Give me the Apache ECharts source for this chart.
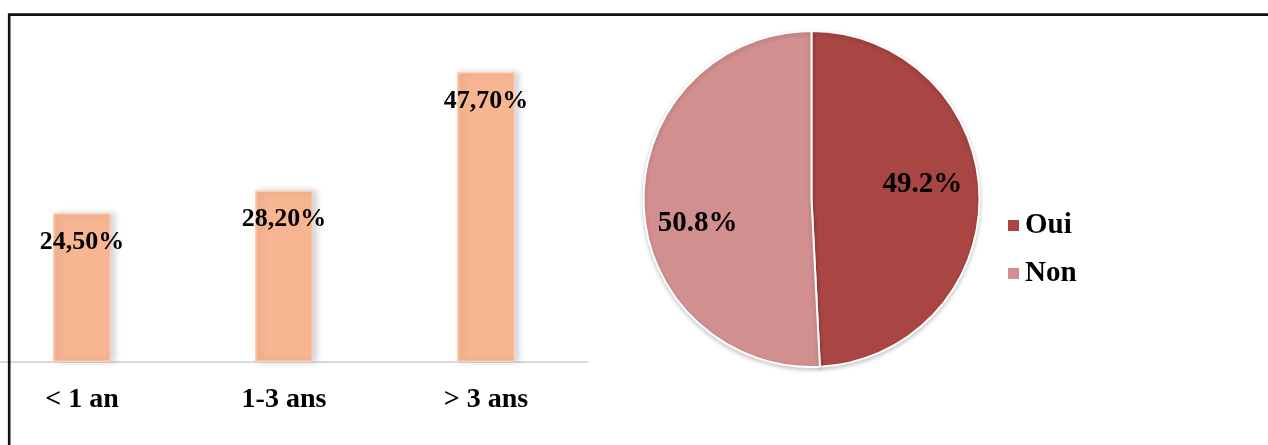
<!DOCTYPE html>
<html>
<head>
<meta charset="utf-8">
<script src="https://cdn.jsdelivr.net/npm/echarts@6/dist/echarts.min.js"></script>
<style>
html,body{margin:0;padding:0;background:#fff;overflow:hidden;width:1268px;height:445px;}
#chart{position:absolute;left:-19px;top:0;width:1287px;height:445px;}
</style>
</head>
<body>
<div id="chart"></div>
<script>
var barCategories = ['< 1 an', '1-3 ans', '> 3 ans'];
var barValues = [24.5, 28.2, 47.7];
var pieNames = ['Oui', 'Non'];
var pieValues = [49.2, 50.8];

var FONT = '"Liberation Serif", "Times New Roman", serif';
var SX = 19; // horizontal shift of the chart container
var pieColors = ['#A94644', '#D18F8F'];
var pieLabelOffsets = [[24, -12], [-27, 22]];

var pieLabel = {
  show: true,
  position: 'inside',
  color: '#000',
  fontFamily: FONT,
  fontWeight: 'bold',
  fontSize: 29,
  formatter: function (p) { return p.value.toFixed(1) + '%'; }
};

var chart = echarts.init(document.getElementById('chart'), null, {renderer: 'canvas'});
chart.setOption({
  animation: false,
  backgroundColor: '#ffffff',
  graphic: [{
    type: 'polyline',
    shape: {points: [[9.2 + SX, 445], [9.2 + SX, 14.6], [1268 + SX, 14.6]]},
    style: {stroke: '#111', lineWidth: 2.6, fill: null},
    z: 100
  }],
  grid: {left: 0, width: 606, top: 58, bottom: 83, containLabel: false},
  xAxis: {
    type: 'category',
    data: barCategories,
    axisLine: {lineStyle: {color: '#D9D9D9', width: 2}},
    axisTick: {show: false},
    axisLabel: {
      color: '#000', fontFamily: FONT, fontWeight: 'bold', fontSize: 28, margin: 24
    }
  },
  yAxis: {
    type: 'value', min: 0, max: 50, show: false,
    splitLine: {show: false}
  },
  legend: {
    orient: 'vertical',
    left: 1001 + SX,
    top: 206,
    itemWidth: 13,
    itemHeight: 13,
    itemGap: 19,
    icon: 'rect',
    data: pieNames,
    textStyle: {color: '#000', fontFamily: FONT, fontWeight: 'bold', fontSize: 29}
  },
  series: [{
    type: 'bar',
    data: barValues,
    barWidth: 58,
    itemStyle: {
      color: '#F8B591',
      borderColor: '#FBD0B6',
      borderWidth: 1.5,
      shadowColor: 'rgba(60,70,100,0.22)',
      shadowBlur: 6,
      shadowOffsetX: 4,
      shadowOffsetY: 0
    },
    label: {
      show: true,
      position: 'insideTop',
      distance: 16,
      color: '#000',
      fontFamily: FONT,
      fontWeight: 'bold',
      fontSize: 26,
      formatter: function (p) { return p.value.toFixed(2).replace('.', ',') + '%'; }
    }
  }, {
    type: 'pie',
    center: [811.5 + SX, 199],
    radius: 168,
    startAngle: 90,
    clockwise: true,
    data: pieNames.map(function (n, i) {
      return {
        name: n, value: pieValues[i],
        itemStyle: {color: pieColors[i]},
        label: {offset: pieLabelOffsets[i]}
      };
    }),
    itemStyle: {
      borderColor: '#ffffff', borderWidth: 2,
      shadowColor: 'rgba(0,0,0,0.2)', shadowBlur: 4, shadowOffsetY: 2
    },
    label: pieLabel,
    labelLine: {show: false},
    emphasis: {disabled: true}
  }]
});
</script>
</body>
</html>
